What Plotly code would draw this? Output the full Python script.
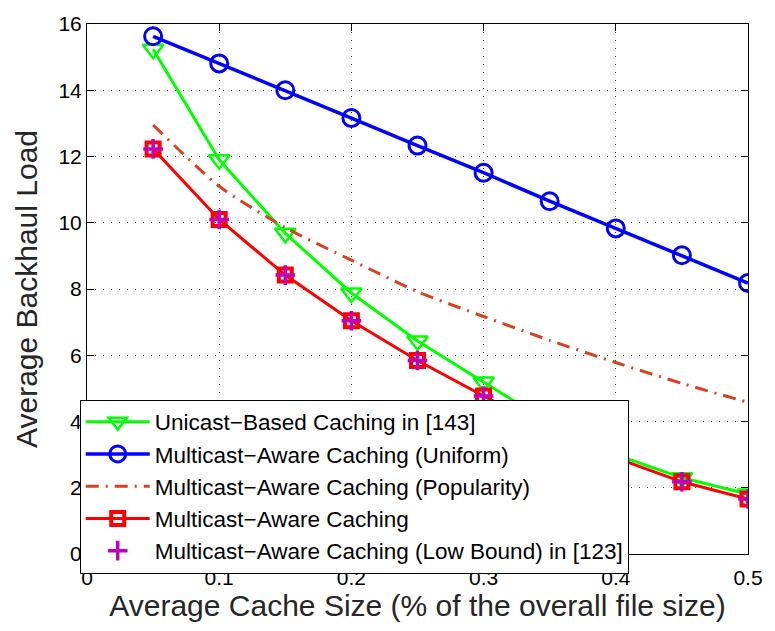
import plotly.graph_objects as go

# Average cache size (fraction of overall file size)
cache_size = [0.05, 0.10, 0.15, 0.20, 0.25, 0.30, 0.35, 0.40, 0.45, 0.50]

# Average backhaul load for each caching scheme
unicast_143 = [15.24, 11.90, 9.68, 7.88, 6.43, 5.19, 3.95, 3.00, 2.30, 1.81]
multicast_uniform = [15.63, 14.81, 14.00, 13.16, 12.33, 11.51, 10.65, 9.83, 9.02, 8.18]
multicast_popularity = [12.95, 11.10, 9.85, 8.87, 7.92, 7.17, 6.45, 5.78, 5.15, 4.58]
multicast_aware = [12.23, 10.10, 8.42, 7.04, 5.84, 4.77, 3.75, 2.90, 2.18, 1.66]
multicast_low_bound_123 = [12.23, 10.10, 8.42, 7.04, 5.84, 4.77, 3.75, 2.90, 2.18, 1.66]

x_ticks = [0, 0.1, 0.2, 0.3, 0.4, 0.5]
x_tick_text = ["0", "0.1", "0.2", "0.3", "0.4", "0.5"]
y_ticks = [0, 2, 4, 6, 8, 10, 12, 14, 16]

FONT = "Liberation Sans, Arial, Helvetica, sans-serif"

fig = go.Figure()

fig.add_trace(go.Scatter(
    x=cache_size, y=unicast_143, mode="lines+markers",
    name="Unicast\u2212Based Caching in [143]", legendgroup="a",
    line=dict(color="#00FF00", width=3),
    marker=dict(symbol="triangle-down-open", size=18, color="#00FF00",
                line=dict(width=2.5, color="#00FF00")),
))
fig.add_trace(go.Scatter(
    x=cache_size, y=multicast_uniform, mode="lines+markers",
    name="Multicast\u2212Aware Caching (Uniform)", legendgroup="b",
    line=dict(color="#0000FF", width=3.5),
    marker=dict(symbol="circle-open", size=17, color="#0000FF",
                line=dict(width=3, color="#0000FF")),
))
fig.add_trace(go.Scatter(
    x=cache_size, y=multicast_popularity, mode="lines",
    name="Multicast\u2212Aware Caching (Popularity)", legendgroup="c",
    line=dict(color="#D9411E", width=3, dash="13px,7px,2px,7px", shape="spline", smoothing=0.6),
))
fig.add_trace(go.Scatter(
    x=cache_size, y=multicast_aware, mode="lines+markers",
    name="Multicast\u2212Aware Caching", legendgroup="d",
    line=dict(color="#FF0000", width=3),
    marker=dict(symbol="square-open", size=13, color="#FF0000",
                line=dict(width=4, color="#FF0000")),
))
fig.add_trace(go.Scatter(
    x=cache_size, y=multicast_low_bound_123, mode="markers",
    name="Multicast\u2212Aware Caching (Low Bound) in [123]", legendgroup="e",
    marker=dict(symbol="cross-thin-open", size=14, color="#BF00BF",
                line=dict(width=3.5, color="#BF00BF")),
))

axis_common = dict(
    showline=True, linecolor="black", linewidth=1, mirror="ticks",
    ticks="inside", ticklen=7, tickcolor="black", tickwidth=1,
    showgrid=True, gridcolor="rgba(0,0,0,0.75)", gridwidth=1, griddash="1px,7px",
    zeroline=False,
    tickfont=dict(family=FONT, size=21, color="black"),
    title_font=dict(family=FONT, size=30, color="#262626"),
)

fig.update_xaxes(
    range=[0, 0.5], tickvals=x_ticks, ticktext=x_tick_text,
    ticklabelstandoff=5,
    title_text="Average Cache Size (% of the overall file size)", title_standoff=3,
    **axis_common,
)
fig.update_yaxes(
    range=[0, 16], tickvals=y_ticks,
    title_text="Average Backhaul Load", title_standoff=11,
    **axis_common,
)

fig.update_layout(
    width=775, height=631,
    margin=dict(l=87, r=21, t=14, b=77),
    paper_bgcolor="white", plot_bgcolor="white",
    showlegend=True,
    legend=dict(
        x=-0.011, y=0.2915, xanchor="left", yanchor="top",
        bgcolor="white", bordercolor="black", borderwidth=1,
        font=dict(family=FONT, size=22.5, color="black"),
        traceorder="grouped", tracegroupgap=0, itemwidth=64,
    ),
)

fig.write_html("out.html")
